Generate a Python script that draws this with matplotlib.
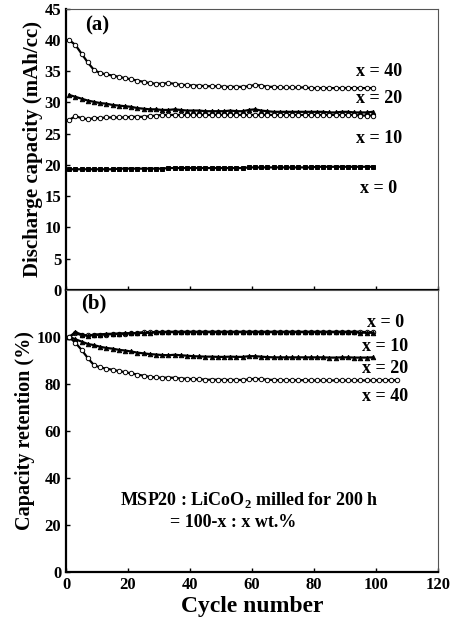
import numpy as np
import matplotlib
matplotlib.use("Agg")
import matplotlib.pyplot as plt

plt.rcParams["font.family"] = ["Liberation Serif", "DejaVu Serif"]
plt.rcParams["font.weight"] = "bold"
plt.rcParams["mathtext.fontset"] = "custom"
plt.rcParams["mathtext.rm"] = "Liberation Serif:bold"

# cycle numbers (every other cycle)
cycles = list(range(1, 101, 2))
cycles_ext = cycles + [101, 103, 105, 107]

# discharge capacity (mAh/cc)
cap_40 = [40.0, 39.2, 37.8, 36.4, 35.2, 34.7, 34.5, 34.3, 34.1, 33.9,
          33.7, 33.5, 33.3, 33.1, 33.0, 33.0, 33.1, 33.0, 32.8, 32.8,
          32.7, 32.7, 32.6, 32.6, 32.6, 32.5, 32.5, 32.5, 32.5, 32.6,
          32.8, 32.7, 32.5, 32.5, 32.4, 32.4, 32.4, 32.4, 32.4, 32.3,
          32.3, 32.3, 32.3, 32.3, 32.3, 32.3, 32.3, 32.3, 32.3, 32.3]
cap_20 = [31.2, 30.9, 30.6, 30.3, 30.1, 29.9, 29.8, 29.6, 29.5, 29.4,
          29.3, 29.1, 29.0, 28.9, 28.9, 28.8, 28.8, 28.9, 28.8, 28.7,
          28.7, 28.7, 28.6, 28.6, 28.6, 28.6, 28.7, 28.6, 28.6, 28.8,
          28.9, 28.7, 28.6, 28.5, 28.5, 28.5, 28.5, 28.5, 28.5, 28.5,
          28.5, 28.5, 28.4, 28.4, 28.5, 28.5, 28.4, 28.4, 28.4, 28.5]
cap_10 = [27.2, 27.8, 27.5, 27.3, 27.5, 27.5, 27.6, 27.6, 27.6, 27.6,
          27.7, 27.7, 27.7, 27.8, 27.9, 28.0, 28.0, 28.0, 28.0, 28.0,
          28.0, 28.0, 28.0, 28.0, 28.0, 28.0, 28.0, 28.0, 28.0, 28.0,
          28.0, 28.0, 28.0, 28.0, 28.0, 28.0, 28.0, 28.0, 28.0, 28.0,
          28.0, 28.0, 28.0, 28.0, 28.0, 28.0, 28.0, 27.9, 27.9, 27.9]
cap_0 = [19.3, 19.3, 19.3, 19.3, 19.3, 19.3, 19.3, 19.3, 19.4, 19.4,
         19.4, 19.4, 19.4, 19.4, 19.4, 19.4, 19.5, 19.5, 19.5, 19.5,
         19.5, 19.5, 19.5, 19.5, 19.5, 19.5, 19.5, 19.5, 19.5, 19.6,
         19.6, 19.6, 19.6, 19.6, 19.6, 19.6, 19.6, 19.6, 19.6, 19.6,
         19.7, 19.7, 19.7, 19.7, 19.7, 19.7, 19.7, 19.7, 19.7, 19.7]

# capacity retention (%)
ret_0 = [100.0, 101.5, 100.8, 100.6, 100.8, 101.0, 101.0, 101.2, 101.3, 101.4,
         101.5, 101.7, 102.0, 102.0, 102.1, 102.1, 102.2, 102.2, 102.2, 102.2,
         102.2, 102.2, 102.2, 102.2, 102.2, 102.2, 102.2, 102.2, 102.2, 102.2,
         102.2, 102.2, 102.2, 102.2, 102.2, 102.2, 102.2, 102.2, 102.2, 102.2,
         102.2, 102.2, 102.2, 102.2, 102.2, 102.2, 102.2, 102.2, 102.0, 102.0]
ret_10 = [100.0, 102.0, 101.0, 100.5, 101.0, 101.0, 101.3, 101.3, 101.4, 101.5,
          101.6, 101.6, 101.7, 101.8, 101.9, 102.0, 102.0, 102.0, 102.0, 102.0,
          102.0, 102.0, 102.0, 102.0, 102.0, 102.0, 102.0, 102.0, 102.0, 102.0,
          102.0, 102.0, 102.0, 102.0, 102.0, 102.0, 102.0, 102.0, 102.0, 102.0,
          102.0, 102.0, 102.0, 102.0, 102.0, 102.0, 102.0, 101.8, 101.8, 101.8]
ret_20 = [100.0, 99.0, 98.0, 97.0, 96.5, 95.8, 95.3, 95.0, 94.5, 94.2,
          93.8, 93.3, 93.0, 92.7, 92.5, 92.3, 92.2, 92.4, 92.2, 92.0,
          91.8, 91.7, 91.6, 91.6, 91.5, 91.5, 91.6, 91.5, 91.5, 91.8,
          91.8, 91.6, 91.4, 91.3, 91.3, 91.3, 91.3, 91.3, 91.3, 91.3,
          91.3, 91.3, 91.2, 91.2, 91.3, 91.3, 91.2, 91.2, 91.2, 91.3]
ret_40 = [100.0, 97.5, 94.5, 91.0, 88.0, 87.0, 86.5, 86.0, 85.5, 85.0,
          84.5, 84.0, 83.5, 83.0, 82.8, 82.6, 82.7, 82.6, 82.3, 82.2,
          82.0, 82.0, 81.8, 81.8, 81.8, 81.7, 81.7, 81.7, 81.7, 81.9,
          82.2, 82.0, 81.8, 81.7, 81.6, 81.6, 81.6, 81.6, 81.6, 81.5,
          81.5, 81.5, 81.5, 81.5, 81.5, 81.5, 81.5, 81.5, 81.5, 81.5,
          81.6, 81.6, 81.6, 81.6]

cap_series = [(cap_40, "o", "white"), (cap_20, "^", "black"),
              (cap_10, "o", "white"), (cap_0, "s", "black")]
ret_series = [(ret_0, cycles, "o", "white"), (ret_10, cycles, "^", "black"),
              (ret_20, cycles, "^", "black"), (ret_40, cycles_ext, "o", "white")]

fig = plt.figure(figsize=(4.56, 6.26), dpi=100)
ax1 = fig.add_axes([0.145, 0.537, 0.815, 0.449])
ax2 = fig.add_axes([0.145, 0.086, 0.815, 0.451])


def style(ax):
    for side in ["left", "bottom"]:
        ax.spines[side].set_linewidth(1.6)
    for side in ["top", "right"]:
        ax.spines[side].set_linewidth(0.8)
        ax.spines[side].set_color("#555555")
    ax.tick_params(direction="in", length=3, width=1, labelsize=12)
    ax.set_xlim(0, 120)
    ax.set_xticks(range(0, 121, 20))


for vals, mk, fc in cap_series:
    ax1.plot(cycles, vals, color="black", lw=1.6, marker=mk, ms=3.2,
             mfc=fc, mec="black", mew=0.7)
style(ax1)
ax1.set_ylim(0, 45)
ax1.set_yticks(range(0, 46, 5))
ax1.tick_params(labelbottom=False)
ax1.set_ylabel("Discharge capacity (mAh/cc)", fontsize=15, fontweight="bold",
               labelpad=1)
ax1.text(6, 41.5, "(a)", fontsize=15, fontweight="bold")
for lab, y in [("x = 40", 35.0), ("x = 20", 30.6), ("x = 10", 24.2), ("x = 0", 16.2)]:
    ax1.text(101, y, lab, fontsize=13, fontweight="bold", ha="center", va="center")

for vals, xs, mk, fc in ret_series:
    ax2.plot(xs, vals, color="black", lw=1.6, marker=mk, ms=3.2,
             mfc=fc, mec="black", mew=0.7)
style(ax2)
ax2.set_ylim(0, 120)
ax2.set_yticks(range(0, 101, 20))
ax2.set_ylabel("Capacity retention (%)", fontsize=14.5, fontweight="bold",
               labelpad=1)
ax2.set_xlabel("Cycle number", fontsize=17, fontweight="bold", labelpad=2)
ax2.text(5, 112, "(b)", fontsize=15, fontweight="bold")
for lab, y in [("x = 0", 106.0), ("x = 10", 95.8), ("x = 20", 86.5), ("x = 40", 74.6)]:
    ax2.text(103, y, lab, fontsize=13, fontweight="bold", ha="center", va="center")
ax2.text(59, 30.5, "MSP20 : LiCoO$_2$ milled for 200 h", fontsize=13,
         fontweight="bold", ha="center", va="center")
ax2.text(54, 21.3, "= 100-x : x wt.%", fontsize=13, fontweight="bold",
         ha="center", va="center")

fig.savefig("out.png", dpi=100)
